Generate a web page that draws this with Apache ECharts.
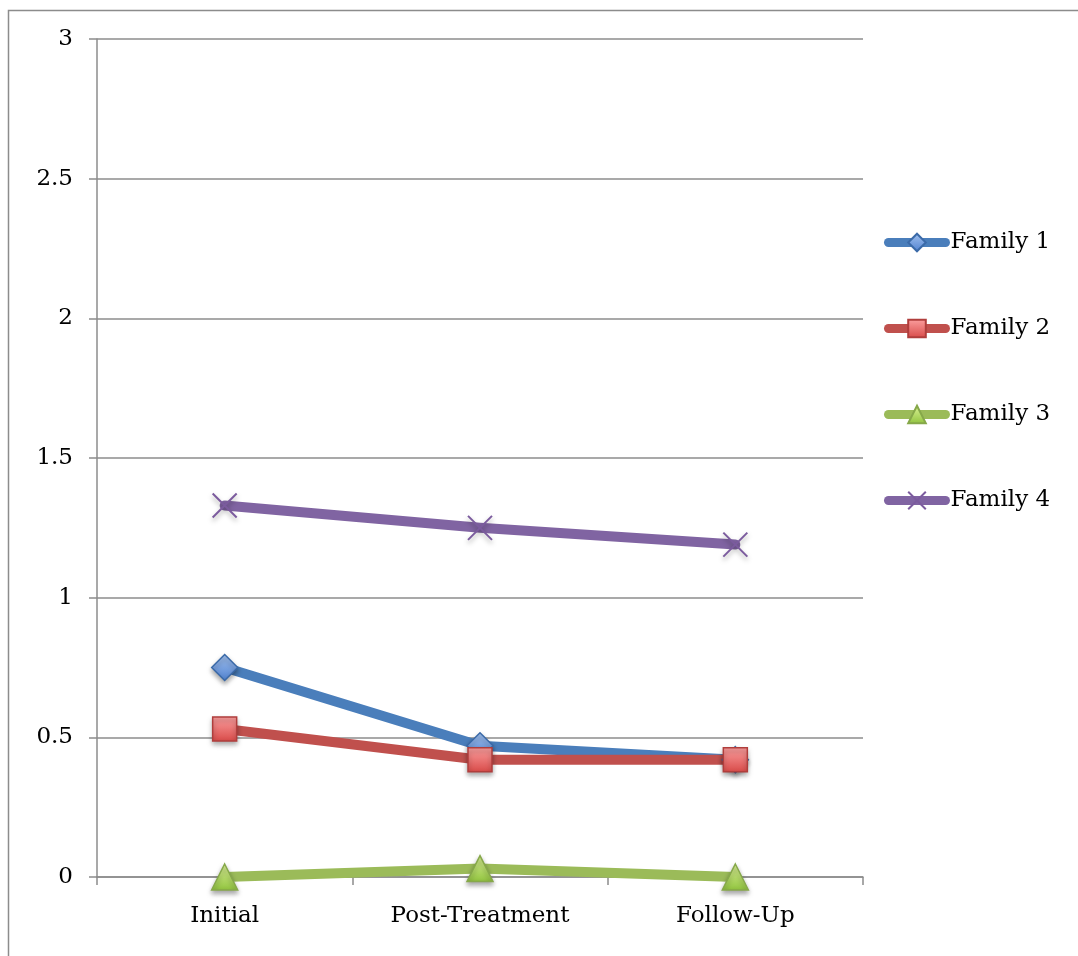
<!DOCTYPE html>
<html>
<head>
<meta charset="utf-8">
<script src="https://cdn.jsdelivr.net/npm/echarts@6/dist/echarts.min.js"></script>
<style>
  html, body { margin: 0; padding: 0; background: #fff; }
  #chart { width: 1078px; height: 956px; }
</style>
</head>
<body>
<div id="chart"></div>
<script>
// 数据
var categories = ['Initial', 'Post-Treatment', 'Follow-Up'];
var family1 = [0.75, 0.47, 0.42];
var family2 = [0.53, 0.42, 0.42];
var family3 = [0.0, 0.03, 0.0];
var family4 = [1.33, 1.25, 1.19];
var yTicks = [0, 0.5, 1, 1.5, 2, 2.5, 3];

var font = 'DejaVu Serif';

function grad(top, bottom) {
    return new echarts.graphic.LinearGradient(0, 0, 0, 1, [
        { offset: 0, color: top },
        { offset: 1, color: bottom }
    ]);
}

function makeSeries(name, data, lineColor, symbol, size, fill, border) {
    return {
        name: name,
        type: 'line',
        data: data,
        symbol: symbol,
        symbolSize: size,
        showAllSymbol: true,
        lineStyle: { color: lineColor, width: 10, cap: 'round', join: 'round' },
        itemStyle: {
            color: fill,
            borderColor: border,
            borderWidth: symbol.indexOf('path://') === 0 ? 2 : 1.5,
            shadowColor: 'rgba(0,0,0,0.35)',
            shadowBlur: 5,
            shadowOffsetY: 3
        },
        emphasis: { disabled: true },
        z: 2
    };
}

var myChart = echarts.init(document.getElementById('chart'));

var option = {
    animation: false,
    textStyle: { fontFamily: font },
    graphic: [{
        type: 'rect',
        shape: { x: 8.5, y: 10.5, width: 1100, height: 1000 },
        style: { fill: 'none', stroke: '#8c8c8c', lineWidth: 1.5 },
        silent: true
    }],
    grid: { left: 97, right: 215, top: 39, bottom: 79 },
    legend: {
        orient: 'vertical',
        left: 879,
        top: 226,
        itemWidth: 57,
        itemHeight: 22,
        itemGap: 63,
        lineStyle: { width: 9, cap: 'round' },
        textStyle: { fontFamily: font, fontSize: 23, color: '#000' },
        data: ['Family 1', 'Family 2', 'Family 3', 'Family 4']
    },
    xAxis: {
        type: 'category',
        data: categories,
        boundaryGap: true,
        axisLine: { lineStyle: { color: '#8c8c8c', width: 1.5 } },
        axisTick: { show: true, length: 8, inside: false, alignWithLabel: false, lineStyle: { color: '#8c8c8c', width: 1.5 } },
        axisLabel: { color: '#000', fontFamily: font, fontSize: 23, margin: 28 }
    },
    yAxis: {
        type: 'value',
        min: yTicks[0],
        max: yTicks[yTicks.length - 1],
        interval: 0.5,
        axisLine: { show: true, lineStyle: { color: '#8c8c8c', width: 1.5 } },
        axisTick: { show: true, length: 8, lineStyle: { color: '#8c8c8c', width: 1.5 } },
        axisLabel: { color: '#000', fontFamily: font, fontSize: 23, margin: 24 },
        splitLine: { show: true, lineStyle: { color: '#8c8c8c', width: 1.5 } }
    },
    series: [
        makeSeries('Family 1', family1, '#4a7ebb', 'diamond', 26, grad('#a3c2ef', '#4f81d0'), '#3b6aa8'),
        makeSeries('Family 2', family2, '#c0504d', 'rect', 24, grad('#fca0a0', '#d84a48'), '#b03e3c'),
        makeSeries('Family 3', family3, '#9bbb59', 'triangle', 26, grad('#dff59a', '#8fc23d'), '#86a84a'),
        makeSeries('Family 4', family4, '#8064a2', 'path://M0,0L10,10M10,0L0,10', 24, 'rgba(0,0,0,0)', '#7b5b9e')
    ]
};

myChart.setOption(option);
</script>
</body>
</html>
